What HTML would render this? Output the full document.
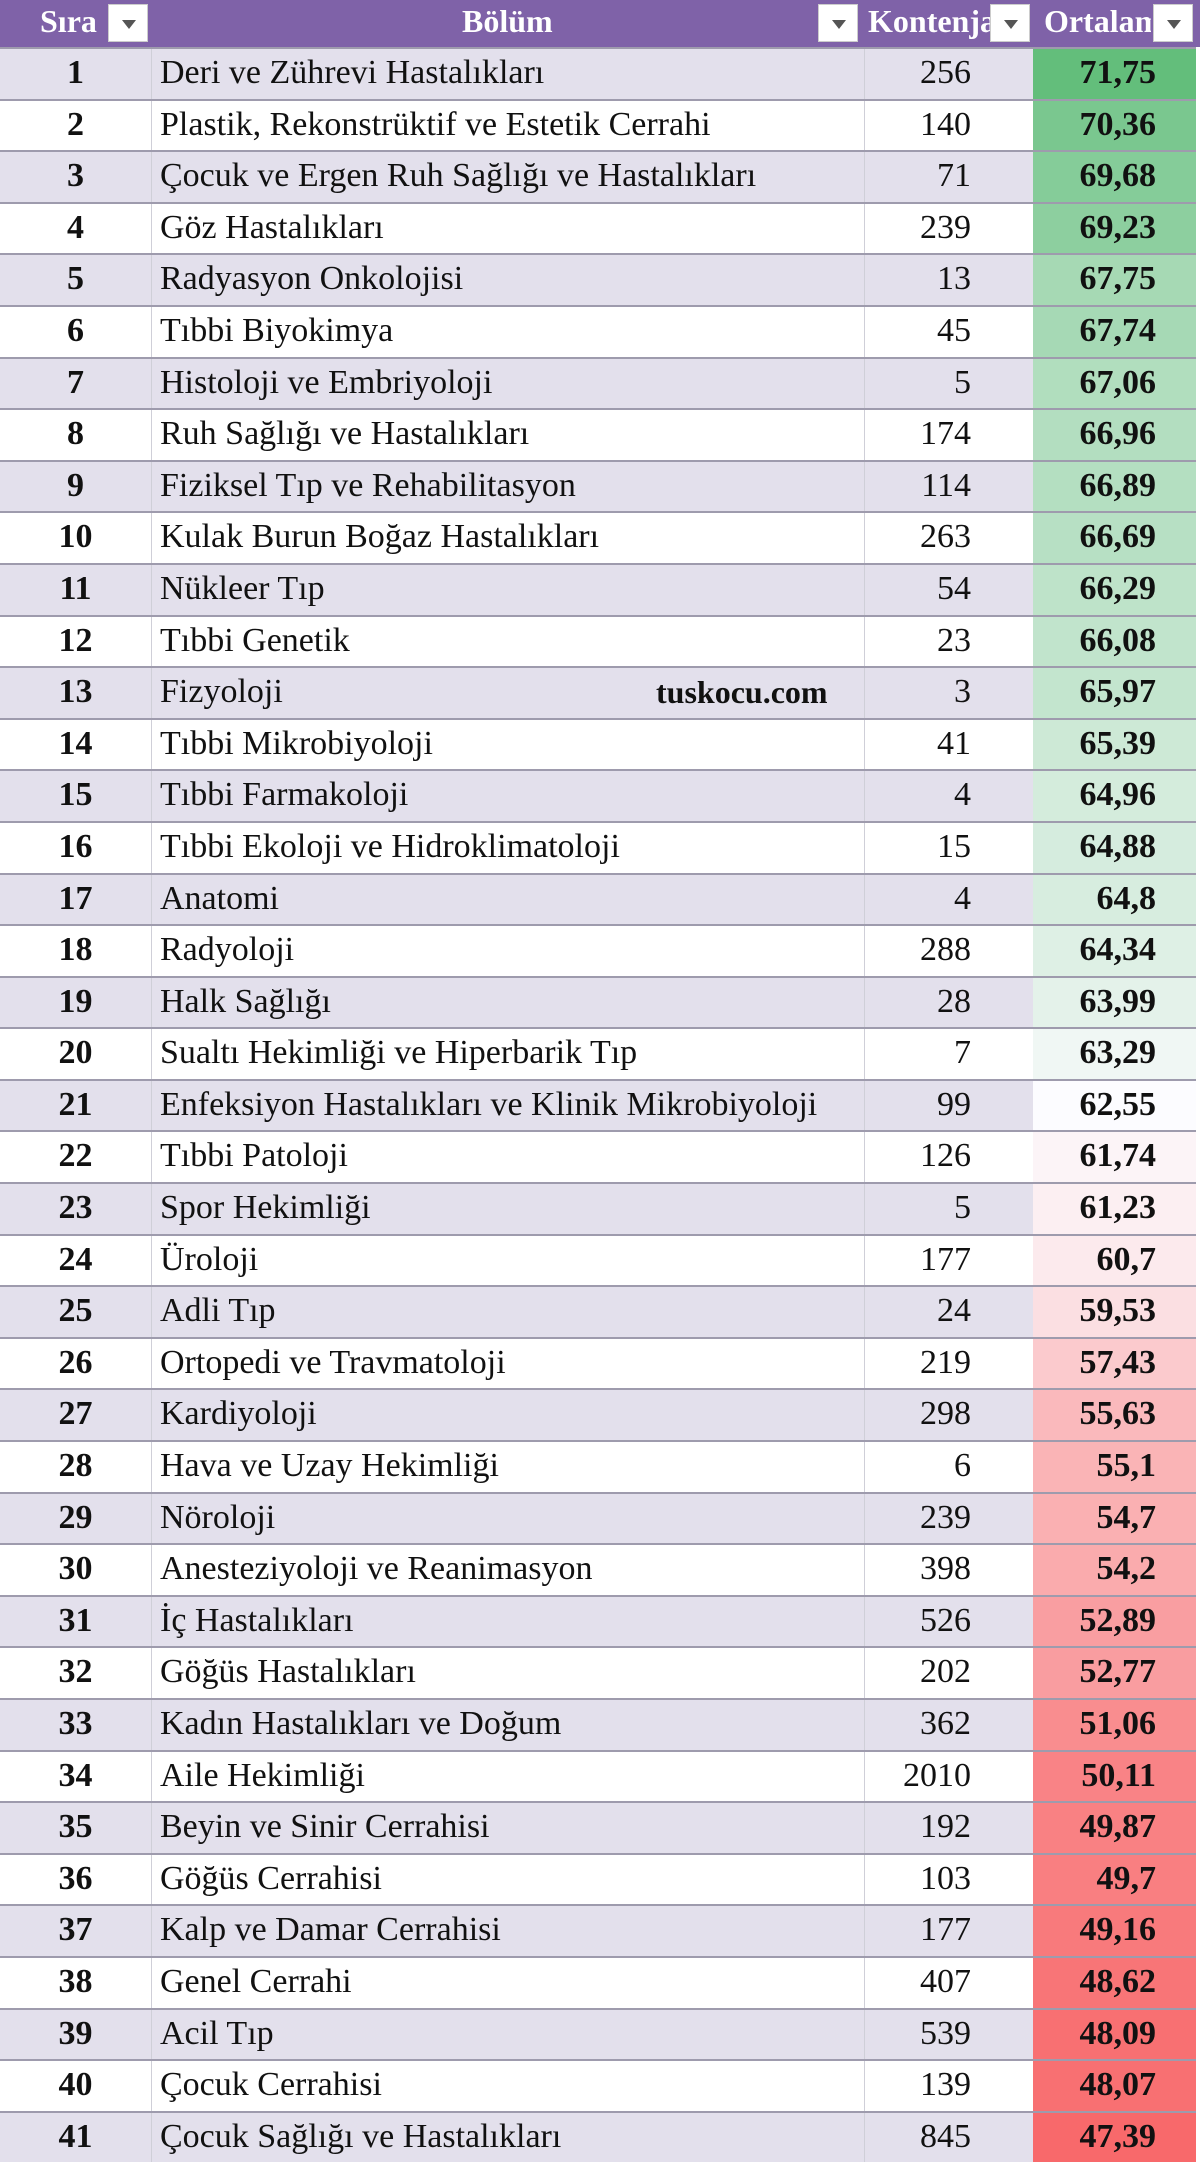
<!DOCTYPE html>
<html><head><meta charset="utf-8"><style>
*{margin:0;padding:0;box-sizing:border-box}
body{width:1200px;height:2165px;background:#fff;font-family:"Liberation Serif",serif;color:#111;overflow:hidden;position:relative}
.hdr{position:absolute;left:0;top:0;width:1200px;height:47px;background:#7f62a8;color:#fff;font-weight:bold;font-size:32px}
.hdr span{position:absolute;top:3px;white-space:nowrap}
.fb{position:absolute;top:4px;width:40px;height:38px;background:#fff;border:1px solid #ccc}
.fb:after{content:"";position:absolute;left:13px;top:15px;border-left:7px solid transparent;border-right:7px solid transparent;border-top:9px solid #555}
.rows{position:absolute;left:0;top:47px;width:1196px}
.r{height:51.6px;display:flex;border-top:2px solid #9e9bad;font-size:34px;line-height:48px}
.r:nth-child(odd){background:#e3e0ec}
.r:nth-child(even){background:#fff}
.a{width:151px;text-align:center;font-weight:bold}
.b{width:713px;padding-left:8px;border-left:1px solid #cfcfd8;white-space:nowrap;position:relative}
.c{width:169px;text-align:right;padding-right:62px;border-left:1px solid #cfcfd8}
.d{width:163px;text-align:right;padding-right:40px;font-weight:bold}
.wm{position:absolute;left:504px;font-weight:bold;font-size:32px}
</style></head><body>
<div class="hdr">
<span style="left:40px;width:66px;overflow:hidden">Sıra</span><div class="fb" style="left:108px"></div>
<span style="left:462px">Bölüm</span><div class="fb" style="left:818px"></div>
<span style="left:868px;width:122px;overflow:hidden">Kontenjan</span><div class="fb" style="left:990px"></div>
<span style="left:1044px;width:107px;overflow:hidden">Ortalama</span><div class="fb" style="left:1153px"></div>
</div>
<div class="rows">
<div class="r"><div class="a">1</div><div class="b">Deri ve Zührevi Hastalıkları</div><div class="c">256</div><div class="d" style="background:rgb(99,190,123)">71,75</div></div>
<div class="r"><div class="a">2</div><div class="b">Plastik, Rekonstrüktif ve Estetik Cerrahi</div><div class="c">140</div><div class="d" style="background:rgb(122,199,143)">70,36</div></div>
<div class="r"><div class="a">3</div><div class="b">Çocuk ve Ergen Ruh Sağlığı ve Hastalıkları</div><div class="c">71</div><div class="d" style="background:rgb(133,204,153)">69,68</div></div>
<div class="r"><div class="a">4</div><div class="b">Göz Hastalıkları</div><div class="c">239</div><div class="d" style="background:rgb(141,207,159)">69,23</div></div>
<div class="r"><div class="a">5</div><div class="b">Radyasyon Onkolojisi</div><div class="c">13</div><div class="d" style="background:rgb(166,217,180)">67,75</div></div>
<div class="r"><div class="a">6</div><div class="b">Tıbbi Biyokimya</div><div class="c">45</div><div class="d" style="background:rgb(166,217,181)">67,74</div></div>
<div class="r"><div class="a">7</div><div class="b">Histoloji ve Embriyoloji</div><div class="c">5</div><div class="d" style="background:rgb(177,222,190)">67,06</div></div>
<div class="r"><div class="a">8</div><div class="b">Ruh Sağlığı ve Hastalıkları</div><div class="c">174</div><div class="d" style="background:rgb(179,222,192)">66,96</div></div>
<div class="r"><div class="a">9</div><div class="b">Fiziksel Tıp ve Rehabilitasyon</div><div class="c">114</div><div class="d" style="background:rgb(180,223,193)">66,89</div></div>
<div class="r"><div class="a">10</div><div class="b">Kulak Burun Boğaz Hastalıkları</div><div class="c">263</div><div class="d" style="background:rgb(183,224,196)">66,69</div></div>
<div class="r"><div class="a">11</div><div class="b">Nükleer Tıp</div><div class="c">54</div><div class="d" style="background:rgb(190,227,201)">66,29</div></div>
<div class="r"><div class="a">12</div><div class="b">Tıbbi Genetik</div><div class="c">23</div><div class="d" style="background:rgb(193,228,204)">66,08</div></div>
<div class="r"><div class="a">13</div><div class="b">Fizyoloji<span class="wm">tuskocu.com</span></div><div class="c">3</div><div class="d" style="background:rgb(195,229,206)">65,97</div></div>
<div class="r"><div class="a">14</div><div class="b">Tıbbi Mikrobiyoloji</div><div class="c">41</div><div class="d" style="background:rgb(205,233,214)">65,39</div></div>
<div class="r"><div class="a">15</div><div class="b">Tıbbi Farmakoloji</div><div class="c">4</div><div class="d" style="background:rgb(212,236,220)">64,96</div></div>
<div class="r"><div class="a">16</div><div class="b">Tıbbi Ekoloji ve Hidroklimatoloji</div><div class="c">15</div><div class="d" style="background:rgb(213,236,222)">64,88</div></div>
<div class="r"><div class="a">17</div><div class="b">Anatomi</div><div class="c">4</div><div class="d" style="background:rgb(215,237,223)">64,8</div></div>
<div class="r"><div class="a">18</div><div class="b">Radyoloji</div><div class="c">288</div><div class="d" style="background:rgb(222,240,229)">64,34</div></div>
<div class="r"><div class="a">19</div><div class="b">Halk Sağlığı</div><div class="c">28</div><div class="d" style="background:rgb(228,242,234)">63,99</div></div>
<div class="r"><div class="a">20</div><div class="b">Sualtı Hekimliği ve Hiperbarik Tıp</div><div class="c">7</div><div class="d" style="background:rgb(240,247,244)">63,29</div></div>
<div class="r"><div class="a">21</div><div class="b">Enfeksiyon Hastalıkları ve Klinik Mikrobiyoloji</div><div class="c">99</div><div class="d" style="background:rgb(252,252,255)">62,55</div></div>
<div class="r"><div class="a">22</div><div class="b">Tıbbi Patoloji</div><div class="c">126</div><div class="d" style="background:rgb(252,244,247)">61,74</div></div>
<div class="r"><div class="a">23</div><div class="b">Spor Hekimliği</div><div class="c">5</div><div class="d" style="background:rgb(252,239,242)">61,23</div></div>
<div class="r"><div class="a">24</div><div class="b">Üroloji</div><div class="c">177</div><div class="d" style="background:rgb(252,234,237)">60,7</div></div>
<div class="r"><div class="a">25</div><div class="b">Adli Tıp</div><div class="c">24</div><div class="d" style="background:rgb(251,223,226)">59,53</div></div>
<div class="r"><div class="a">26</div><div class="b">Ortopedi ve Travmatoloji</div><div class="c">219</div><div class="d" style="background:rgb(251,202,205)">57,43</div></div>
<div class="r"><div class="a">27</div><div class="b">Kardiyoloji</div><div class="c">298</div><div class="d" style="background:rgb(250,185,188)">55,63</div></div>
<div class="r"><div class="a">28</div><div class="b">Hava ve Uzay Hekimliği</div><div class="c">6</div><div class="d" style="background:rgb(250,180,182)">55,1</div></div>
<div class="r"><div class="a">29</div><div class="b">Nöroloji</div><div class="c">239</div><div class="d" style="background:rgb(250,176,178)">54,7</div></div>
<div class="r"><div class="a">30</div><div class="b">Anesteziyoloji ve Reanimasyon</div><div class="c">398</div><div class="d" style="background:rgb(250,171,173)">54,2</div></div>
<div class="r"><div class="a">31</div><div class="b">İç Hastalıkları</div><div class="c">526</div><div class="d" style="background:rgb(249,158,161)">52,89</div></div>
<div class="r"><div class="a">32</div><div class="b">Göğüs Hastalıkları</div><div class="c">202</div><div class="d" style="background:rgb(249,157,160)">52,77</div></div>
<div class="r"><div class="a">33</div><div class="b">Kadın Hastalıkları ve Doğum</div><div class="c">362</div><div class="d" style="background:rgb(249,141,143)">51,06</div></div>
<div class="r"><div class="a">34</div><div class="b">Aile Hekimliği</div><div class="c">2010</div><div class="d" style="background:rgb(249,131,134)">50,11</div></div>
<div class="r"><div class="a">35</div><div class="b">Beyin ve Sinir Cerrahisi</div><div class="c">192</div><div class="d" style="background:rgb(249,129,131)">49,87</div></div>
<div class="r"><div class="a">36</div><div class="b">Göğüs Cerrahisi</div><div class="c">103</div><div class="d" style="background:rgb(249,127,129)">49,7</div></div>
<div class="r"><div class="a">37</div><div class="b">Kalp ve Damar Cerrahisi</div><div class="c">177</div><div class="d" style="background:rgb(248,122,124)">49,16</div></div>
<div class="r"><div class="a">38</div><div class="b">Genel Cerrahi</div><div class="c">407</div><div class="d" style="background:rgb(248,117,119)">48,62</div></div>
<div class="r"><div class="a">39</div><div class="b">Acil Tıp</div><div class="c">539</div><div class="d" style="background:rgb(248,112,114)">48,09</div></div>
<div class="r"><div class="a">40</div><div class="b">Çocuk Cerrahisi</div><div class="c">139</div><div class="d" style="background:rgb(248,112,114)">48,07</div></div>
<div class="r"><div class="a">41</div><div class="b">Çocuk Sağlığı ve Hastalıkları</div><div class="c">845</div><div class="d" style="background:rgb(248,105,107)">47,39</div></div>
</div>
</body></html>
